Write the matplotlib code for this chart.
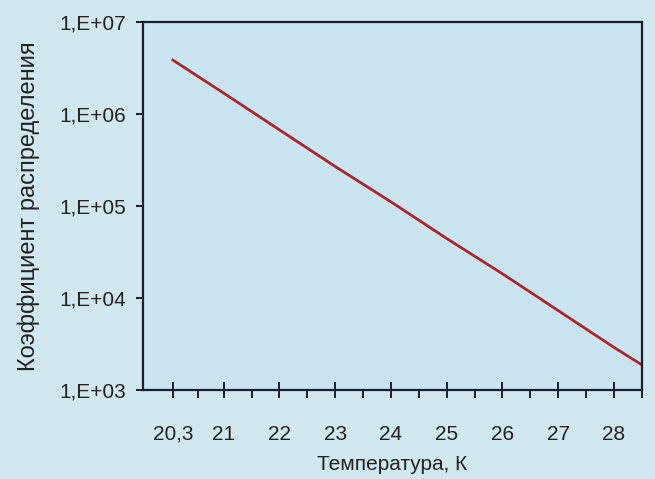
import numpy as np
import matplotlib
matplotlib.use("Agg")
import matplotlib.pyplot as plt
from matplotlib.ticker import FixedLocator, FuncFormatter, NullLocator

# data
temp = [20.3, 21, 22, 23, 24, 25, 26, 27, 28, 28.5]
coef = [3.86e6, 1.69e6, 6.73e5, 2.69e5, 1.11e5, 4.43e4, 1.83e4, 7.28e3, 2.90e3, 1.87e3]

xtick_vals = [20.3, 21, 22, 23, 24, 25, 26, 27, 28]
xtick_labels = ['20,3', '21', '22', '23', '24', '25', '26', '27', '28']
xminor_vals = [20.65, 21.5, 22.5, 23.5, 24.5, 25.5, 26.5, 27.5, 28.5]
ytick_vals = [1e3, 1e4, 1e5, 1e6, 1e7]

# the original axis squeezes the stretch below 21 K a little (category-like spacing)
K = 1.3


def fwd(t):
    t = np.asarray(t, dtype=float)
    return np.where(t < 21, 21 - (21 - t) * K, t)


def inv(u):
    u = np.asarray(u, dtype=float)
    return np.where(u < 21, 21 - (21 - u) / K, u)


plt.rcParams['font.family'] = ['Liberation Sans', 'DejaVu Sans']

bg = '#d0e7f0'
fig = plt.figure(figsize=(6.55, 4.79), dpi=100, facecolor=bg)
ax = fig.add_axes([0.218, 0.186, 0.762, 0.768])
ax.set_facecolor('#c9e4ef')

ax.plot(temp, coef, color='#a8262c', lw=2.0)

ax.set_xscale('function', functions=(fwd, inv))
ax.set_yscale('log')
ax.set_ylim(1e3, 1e7)
ax.set_xlim(19.885, 28.5)

ax.yaxis.set_major_locator(FixedLocator(ytick_vals))
ax.yaxis.set_minor_locator(NullLocator())
ax.yaxis.set_major_formatter(FuncFormatter(lambda v, p: '1,E+%02d' % round(np.log10(v))))

ax.xaxis.set_major_locator(FixedLocator(xtick_vals))
ax.set_xticklabels(xtick_labels)
ax.xaxis.set_minor_locator(FixedLocator(xminor_vals))

axcol = '#1c1c2c'
for s in ax.spines.values():
    s.set_color(axcol)
    s.set_linewidth(1.6)

ax.tick_params(axis='x', which='major', direction='inout', length=12, width=1.4,
               colors=axcol, labelsize=15, pad=19)
ax.tick_params(axis='x', which='minor', direction='out', length=6, width=1.4, colors=axcol)
ax.tick_params(axis='y', which='major', direction='out', length=5, width=1.4,
               colors=axcol, labelsize=15, pad=7)
for lab in ax.get_xticklabels() + ax.get_yticklabels():
    lab.set_color('#222222')

ax.set_xlabel('Температура, К', fontsize=15, color='#222222', labelpad=8)
ax.set_ylabel('Коэффициент распределения', fontsize=17, color='#222222', labelpad=14)

fig.savefig('out.png', dpi=100, facecolor=bg)
